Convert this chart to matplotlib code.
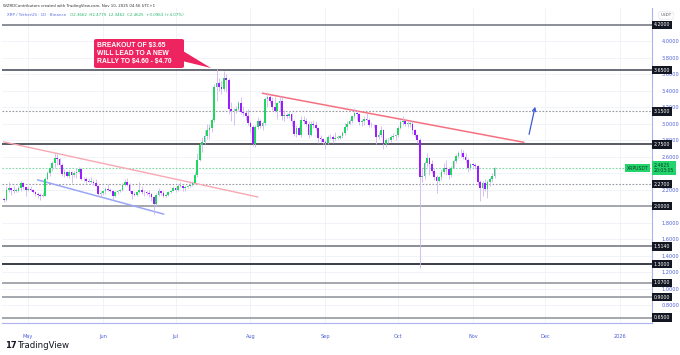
import matplotlib
matplotlib.use('Agg')
import matplotlib.pyplot as plt
import matplotlib.dates as mdates
import matplotlib.transforms as mtransforms
from matplotlib.patches import FancyBboxPatch, Polygon
import numpy as np
import pandas as pd

# ---------------- data ----------------
start_date = '2025-04-21'
first_open = 2.09
closes = [
    # Apr 21-30
    2.08, 2.20, 2.22, 2.20, 2.19, 2.19, 2.22, 2.28, 2.23, 2.20,
    # May
    2.21, 2.20, 2.17, 2.15, 2.14, 2.13, 2.13, 2.33, 2.40, 2.46,
    2.52, 2.58, 2.57, 2.50, 2.39, 2.42, 2.37, 2.41, 2.38, 2.40,
    2.42, 2.45, 2.33, 2.33, 2.31, 2.30, 2.30, 2.28, 2.25, 2.15, 2.16,
    # Jun
    2.18, 2.21, 2.20, 2.18, 2.13, 2.17, 2.18, 2.20, 2.26, 2.29,
    2.26, 2.19, 2.15, 2.14, 2.17, 2.20, 2.17, 2.17, 2.16, 2.15,
    2.11, 2.03, 2.14, 2.18, 2.16, 2.13, 2.14, 2.17, 2.19, 2.22,
    # Jul
    2.20, 2.25, 2.25, 2.22, 2.23, 2.25, 2.26, 2.28, 2.38, 2.56,
    2.74, 2.78, 2.85, 2.93, 2.95, 3.05, 3.45, 3.50, 3.45, 3.42,
    3.55, 3.53, 3.18, 3.15, 3.16, 3.18, 3.25, 3.14, 3.13, 3.10, 3.01,
    # Aug
    2.96, 2.76, 2.96, 3.04, 2.97, 3.01, 3.30, 3.32, 3.28, 3.20,
    3.16, 3.25, 3.28, 3.10, 3.11, 3.10, 3.12, 3.04, 2.88, 2.95,
    2.87, 3.05, 3.04, 3.00, 2.86, 3.00, 2.99, 2.95, 2.83, 2.82, 2.78,
    # Sep
    2.77, 2.84, 2.84, 2.82, 2.83, 2.83, 2.85, 2.89, 2.96, 3.00,
    3.04, 3.10, 3.13, 3.12, 3.02, 3.04, 3.06, 3.05, 2.98, 2.99,
    2.98, 2.84, 2.86, 2.93, 2.76, 2.80, 2.80, 2.84, 2.85, 2.86,
    # Oct
    2.95, 3.02, 3.04, 3.00, 3.00, 3.00, 2.92, 2.86, 2.80, 2.36,
    2.37, 2.52, 2.59, 2.51, 2.43, 2.36, 2.31, 2.35, 2.42, 2.47,
    2.45, 2.38, 2.47, 2.55, 2.61, 2.64, 2.64, 2.60, 2.56, 2.46, 2.51,
    # Nov 1-10
    2.50, 2.49, 2.30, 2.22, 2.28, 2.21, 2.30, 2.33, 2.3662, 2.4625,
]
highs = [
    2.11, 2.24, 2.30, 2.23, 2.24, 2.22, 2.25, 2.31, 2.30, 2.24,
    2.24, 2.24, 2.21, 2.18, 2.17, 2.16, 2.17, 2.35, 2.43, 2.48,
    2.55, 2.65, 2.63, 2.58, 2.52, 2.45, 2.43, 2.44, 2.43, 2.43,
    2.46, 2.48, 2.47, 2.36, 2.35, 2.34, 2.36, 2.32, 2.33, 2.26, 2.18,
    2.20, 2.23, 2.27, 2.22, 2.20, 2.19, 2.20, 2.21, 2.28, 2.33,
    2.34, 2.28, 2.19, 2.17, 2.19, 2.29, 2.24, 2.20, 2.18, 2.20,
    2.16, 2.12, 2.16, 2.22, 2.19, 2.18, 2.16, 2.18, 2.20, 2.25,
    2.23, 2.27, 2.30, 2.26, 2.24, 2.26, 2.30, 2.31, 2.41, 2.65,
    2.77, 2.84, 2.92, 3.00, 3.00, 3.07, 3.48, 3.66, 3.56, 3.52,
    3.64, 3.60, 3.55, 3.27, 3.19, 3.21, 3.28, 3.33, 3.22, 3.16, 3.18,
    3.03, 2.99, 2.98, 3.08, 3.06, 3.03, 3.32, 3.38, 3.35, 3.32,
    3.32, 3.27, 3.34, 3.32, 3.17, 3.13, 3.15, 3.13, 3.06, 2.98,
    2.97, 3.10, 3.09, 3.07, 3.03, 3.03, 3.05, 3.03, 2.96, 2.86, 2.83,
    2.80, 2.86, 2.88, 2.86, 2.90, 2.86, 2.87, 2.91, 3.01, 3.03,
    3.06, 3.11, 3.19, 3.17, 3.13, 3.06, 3.09, 3.13, 3.07, 3.02,
    3.00, 2.99, 2.90, 2.97, 2.94, 2.83, 2.83, 2.86, 2.89, 2.88,
    2.97, 3.05, 3.10, 3.05, 3.04, 3.04, 3.03, 2.94, 2.88, 2.83,
    2.48, 2.55, 2.64, 2.60, 2.56, 2.46, 2.38, 2.37, 2.45, 2.52,
    2.56, 2.48, 2.49, 2.57, 2.63, 2.67, 2.70, 2.68, 2.65, 2.58, 2.53,
    2.53, 2.52, 2.50, 2.32, 2.31, 2.33, 2.32, 2.35, 2.40, 2.4779,
]
lows = [
    2.05, 2.07, 2.17, 2.14, 2.16, 2.17, 2.17, 2.18, 2.21, 2.12,
    2.18, 2.18, 2.16, 2.13, 2.10, 2.08, 2.11, 2.12, 2.32, 2.37,
    2.43, 2.47, 2.50, 2.48, 2.37, 2.36, 2.35, 2.34, 2.28, 2.35,
    2.34, 2.40, 2.32, 2.31, 2.28, 2.29, 2.28, 2.26, 2.24, 2.12, 2.13,
    2.14, 2.15, 2.19, 2.17, 2.08, 2.11, 2.15, 2.17, 2.18, 2.25,
    2.25, 2.17, 2.09, 2.12, 2.13, 2.16, 2.15, 2.13, 2.14, 2.11,
    2.07, 1.91, 2.00, 2.13, 2.14, 2.11, 2.11, 2.13, 2.16, 2.18,
    2.17, 2.18, 2.23, 2.19, 2.19, 2.22, 2.23, 2.24, 2.27, 2.36,
    2.55, 2.66, 2.76, 2.82, 2.82, 2.90, 3.02, 3.28, 3.40, 3.36,
    3.40, 3.39, 3.12, 3.03, 2.98, 3.13, 3.15, 3.12, 3.10, 3.05, 2.99,
    2.90, 2.73, 2.72, 2.94, 2.95, 2.92, 2.99, 3.20, 3.25, 3.17,
    3.14, 3.06, 3.15, 3.05, 3.03, 3.07, 3.07, 2.97, 2.85, 2.84,
    2.86, 2.84, 3.00, 2.97, 2.83, 2.85, 2.95, 2.93, 2.77, 2.78, 2.76,
    2.70, 2.75, 2.81, 2.77, 2.80, 2.81, 2.81, 2.83, 2.87, 2.93,
    2.98, 3.01, 3.07, 3.05, 2.99, 2.97, 2.98, 3.03, 2.96, 2.96,
    2.95, 2.75, 2.81, 2.84, 2.70, 2.72, 2.77, 2.78, 2.82, 2.80,
    2.84, 2.94, 2.99, 2.97, 2.96, 2.96, 2.88, 2.84, 2.77, 1.25,
    2.29, 2.33, 2.48, 2.38, 2.40, 2.32, 2.16, 2.29, 2.32, 2.39,
    2.38, 2.33, 2.36, 2.45, 2.53, 2.58, 2.60, 2.57, 2.53, 2.42, 2.44,
    2.48, 2.45, 2.26, 2.07, 2.12, 2.19, 2.10, 2.25, 2.30, 2.3462,
]

level_values = [4.20, 3.65, 3.15, 2.75, 2.27, 2.00, 1.514, 1.30, 1.07, 0.90, 0.65]
level_labels = ['4.2000', '3.6500', '3.1500', '2.7500', '2.2700', '2.0000',
                '1.5140', '1.3000', '1.0700', '0.9000', '0.6500']
ytick_values = [0.8, 1.0, 1.2, 1.4, 1.6, 1.8, 2.0, 2.2, 2.4, 2.6, 2.8, 3.0, 3.2, 3.4, 3.6, 3.8, 4.0]
ytick_labels = ['0.8000', '1.0000', '1.2000', '1.4000', '1.6000', '1.8000', '', '2.2000',
                '', '2.6000', '2.8000', '3.0000', '3.2000', '3.4000', '3.6000', '3.8000', '4.0000']
month_dates = ['2025-05-01', '2025-06-01', '2025-07-01', '2025-08-01', '2025-09-01',
               '2025-10-01', '2025-11-01', '2025-12-01', '2026-01-01']
month_labels = ['May', 'Jun', 'Jul', 'Aug', 'Sep', 'Oct', 'Nov', 'Dec', '2026']

last_price = 2.4625
red_trend_dates = ['2025-08-06', '2025-11-22']
red_trend_prices = [3.37, 2.776]
pink_trend_dates = ['2025-04-21', '2025-08-04']
pink_trend_prices = [2.78, 2.113]
blue_trend_dates = ['2025-05-05', '2025-06-26']
blue_trend_prices = [2.32, 1.906]
arrow_dates = ['2025-11-24', '2025-11-27']
arrow_prices = [2.84, 3.24]

header_text = 'WZRDContributors created with TradingView.com, Nov 10, 2025 04:56 UTC+1'
legend_name = 'XRP / TetherUS · 1D · Binance'
legend_values = 'O2.3662  H2.4779  L2.3462  C2.4625  +0.0963 (+4.07%)'
note_lines = ['BREAKOUT OF $3.65', 'WILL LEAD TO A NEW', 'RALLY TO $4.60 - $4.70']

# ---------------- figure ----------------
W, H = 680, 355
fig = plt.figure(figsize=(W / 100, H / 100), dpi=100)
fig.patch.set_facecolor('white')

def fx(x):
    return x / W

def fy(y):
    return 1 - y / H

ax_l, ax_r, ax_t, ax_b = 2, 652, 8, 323
ax = fig.add_axes([fx(ax_l), fy(ax_b), fx(ax_r - ax_l), (ax_b - ax_t) / H])
ax.set_facecolor('white')

dates = pd.date_range(start_date, periods=len(closes), freq='D')
xd = mdates.date2num(dates.to_pydatetime())
c = np.array(closes)
o = np.array([first_open] + closes[:-1])
h = np.array(highs)
l = np.array(lows)

may1 = mdates.date2num(pd.Timestamp('2025-05-01').to_pydatetime())
ax.set_xlim(may1 - 10.8, may1 + 258.1)
ax.set_ylim(0.585, 4.404)

# grid and ticks
ax.set_yticks(ytick_values)
ax.set_yticklabels(ytick_labels)
mx = mdates.date2num(pd.to_datetime(month_dates).to_pydatetime())
ax.set_xticks(mx)
ax.set_xticklabels(month_labels)
ax.grid(True, color='#eef1f7', lw=0.6, zorder=0)
ax.tick_params(axis='y', left=False, right=False, labelleft=False, labelright=True,
               labelsize=3.6, labelcolor='#4d5fd8', pad=3.2)
ax.tick_params(axis='x', bottom=False, labelsize=3.6, labelcolor='#4d5fd8', pad=4.5)
for s in ['top', 'left']:
    ax.spines[s].set_visible(False)
ax.spines['right'].set_color('#aab4f0')
ax.spines['right'].set_linewidth(0.8)
ax.spines['bottom'].set_color('#aab4f0')
ax.spines['bottom'].set_linewidth(0.8)

# level lines
level_style = {
    '4.2000': ('#787b86', 1.2, '-'), '3.6500': ('#5d606b', 1.3, '-'),
    '3.1500': ('#9598a1', 0.8, (0, (1.5, 1.5))), '2.7500': ('#4a4d57', 1.3, '-'),
    '2.2700': ('#9598a1', 0.8, (0, (1.5, 1.5))), '2.0000': ('#9598a1', 1.2, '-'),
    '1.5140': ('#787b86', 1.2, '-'), '1.3000': ('#2a2e39', 1.3, '-'),
    '1.0700': ('#9598a1', 1.2, '-'), '0.9000': ('#9598a1', 1.2, '-'),
    '0.6500': ('#9598a1', 1.2, '-'),
}
for v, lab in zip(level_values, level_labels):
    col, lw, ls = level_style[lab]
    ax.axhline(v, color=col, lw=lw, ls=ls, zorder=2)
ax.axhline(last_price, color='#7fd8a6', lw=0.8, ls=(0, (1.5, 1.5)), zorder=2)

# trend lines
def dn(ds):
    return mdates.date2num(pd.to_datetime(ds).to_pydatetime())

ax.plot(dn(pink_trend_dates), pink_trend_prices, color='#f7a9b2', lw=1.0, zorder=3)
ax.plot(dn(blue_trend_dates), blue_trend_prices, color='#9aa6f5', lw=1.1, zorder=3)
ax.plot(dn(red_trend_dates), red_trend_prices, color='#f5707f', lw=1.1, zorder=3)
ad = dn(arrow_dates)
ax.annotate('', xy=(ad[1], arrow_prices[1]), xytext=(ad[0], arrow_prices[0]),
            arrowprops=dict(arrowstyle='->', color='#3b5bdb', lw=0.9,
                            mutation_scale=6), zorder=6)

# candles
up = c >= o
wick_col = '#cfb6f2'
ax.vlines(xd, l, h, color=wick_col, lw=0.6, zorder=4)
body_lo = np.minimum(o, c)
body_h = np.maximum(np.abs(c - o), 0.006)
ax.bar(xd[up], body_h[up], bottom=body_lo[up], width=0.7, color='#1fd65f',
       edgecolor='none', zorder=5)
ax.bar(xd[~up], body_h[~up], bottom=body_lo[~up], width=0.7, color='#9b1cff',
       edgecolor='none', zorder=5)

# right-axis level labels
trans = mtransforms.blended_transform_factory(ax.transAxes, ax.transData)
for v, lab in zip(level_values, level_labels):
    ax.text(1.003, v, lab, transform=trans, ha='left', va='center', fontsize=3.4,
            color='white', zorder=10, clip_on=False,
            bbox=dict(boxstyle='square,pad=0.35', fc='#131722', ec='none'))
# current price label
ax.text(1.003, last_price, f'{last_price:.4f}\n20:03:05', transform=trans, ha='left',
        va='center', fontsize=3.3, color='#0b3d20', zorder=10, clip_on=False,
        linespacing=1.1, bbox=dict(boxstyle='square,pad=0.35', fc='#22d46b', ec='none'))
ax.text(0.995, last_price, 'XRPUSDT', transform=trans, ha='right', va='center',
        fontsize=3.3, color='#0b3d20', zorder=10,
        bbox=dict(boxstyle='square,pad=0.35', fc='#22d46b', ec='none'))

# header / legend
fig.text(fx(3), fy(5.5), header_text, fontsize=2.8, color='#333333', va='center')
fig.text(fx(7), fy(15.5), legend_name, fontsize=2.9, color='#5a6fe0', va='center')
fig.text(fx(70), fy(15.5), legend_values, fontsize=2.9, color='#26b36b', va='center')
fig.text(fx(666), fy(15.5), 'USDT', fontsize=3.0, color='#555555', va='center', ha='center',
         bbox=dict(boxstyle='round,pad=0.4', fc='white', ec='#e0e3eb', lw=0.5))

# annotation box with tail
bx0, bx1, by0, by1 = 94, 184, 39, 68
tail = Polygon([(fx(178), fy(48)), (fx(211), fy(68)), (fx(178), fy(60))],
               closed=True, transform=fig.transFigure, fc='#ee2461', ec='none', zorder=20)
fig.patches.append(tail)
box = FancyBboxPatch((fx(bx0), fy(by1)), fx(bx1 - bx0), (by1 - by0) / H,
                     boxstyle='round,pad=0,rounding_size=0.004',
                     transform=fig.transFigure, fc='#ee2461', ec='none', zorder=21)
fig.patches.append(box)
for i, t in enumerate(note_lines):
    fig.text(fx(97), fy(45 + i * 8.3), t, fontsize=4.9, fontweight='bold',
             family='Liberation Sans', color='white', va='center', ha='left',
             zorder=22, parse_math=False)

# TradingView logo
fig.text(fx(5), fy(345), '17', fontsize=6, fontweight='heavy', color='#131722',
         va='center', ha='left')
fig.text(fx(18), fy(345), 'TradingView', fontsize=6.2, color='#131722', va='center', ha='left')

fig.savefig('out.png', dpi=100, facecolor='white')
